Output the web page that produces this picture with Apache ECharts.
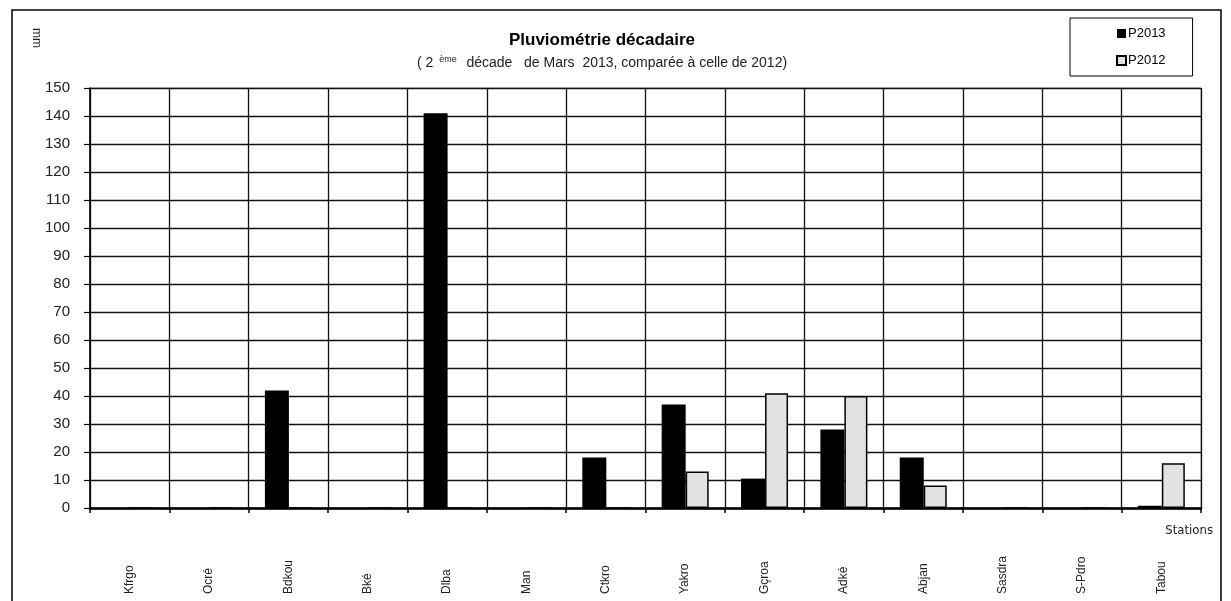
<!DOCTYPE html>
<html>
<head>
<meta charset="utf-8">
<script src="https://cdn.jsdelivr.net/npm/echarts@6/dist/echarts.min.js"></script>
<style>
  html, body { margin: 0; padding: 0; background: #fff; }
  #chart { width: 1231px; height: 601px; }
</style>
</head>
<body>
<div id="chart"></div>
<script>
// stations (x axis)
var stations = ['Kfrgo', 'Ocré', 'Bdkou', 'Bké', 'Dlba', 'Man', 'Ctkro', 'Yakro', 'Gçroa', 'Adké', 'Abjan', 'Sasdra', 'S-Pdro', 'Tabou'];
// rainfall mm
var p2013 = [0, 0, 42, 0, 141, 0, 18, 37, 10.5, 28, 18, 0, 0, 0.8];
var p2012 = [0, 0, 0, 0, 0, 0, 0, 13, 41, 40, 8, 0, 0, 16];

var chart = echarts.init(document.getElementById('chart'));

var font = '"Liberation Sans", Arial, sans-serif';

var option = {
    animation: false,
    backgroundColor: '#fff',
    textStyle: { fontFamily: font },
    title: {
        text: 'Pluviométrie décadaire',
        subtext: '{n|( 2 }{s|ème}{n|  décade   de Mars  2013, comparée à celle de 2012)}',
        left: 597,
        top: 27,
        textAlign: 'center',
        itemGap: 6,
        textStyle: { fontSize: 17, fontWeight: 'bold', color: '#000', fontFamily: font },
        subtextStyle: {
            color: '#222',
            fontFamily: font,
            rich: {
                n: { fontSize: 14, color: '#222', fontFamily: font },
                s: { fontSize: 9, color: '#222', fontFamily: font, verticalAlign: 'top', padding: [0, 2, 8, 2] }
            }
        }
    },
    legend: {
        orient: 'vertical',
        left: 1070,
        top: 18,
        padding: [9, 27, 9, 46],
        itemGap: 14,
        itemWidth: 9,
        itemHeight: 9,
        borderColor: '#000',
        borderWidth: 1,
        icon: 'rect',
        textStyle: { fontSize: 13, color: '#000', padding: [0, 0, 0, -3] },
        data: ['P2013', 'P2012']
    },
    grid: {
        left: 90,
        right: 30,
        top: 88,
        bottom: 93,
        show: true,
        borderColor: '#999',
        borderWidth: 1
    },
    xAxis: {
        type: 'category',
        data: stations,
        boundaryGap: true,
        axisLine: { lineStyle: { color: '#000', width: 2.5 } },
        axisTick: { show: true, length: 5, lineStyle: { color: '#000', width: 1.5 } },
        splitLine: { show: true, lineStyle: { color: '#111', width: 1.3 } },
        axisLabel: {
            interval: 0,
            rotate: 90,
            align: 'left',
            margin: 86,
            fontSize: 12,
            color: '#222'
        }
    },
    yAxis: {
        type: 'value',
        min: 0,
        max: 150,
        interval: 10,
        axisLine: { show: true, lineStyle: { color: '#000', width: 1.5 } },
        axisTick: { show: true, length: 6, lineStyle: { color: '#000', width: 1.2 } },
        splitLine: { show: true, lineStyle: { color: '#111', width: 1.3 } },
        axisLabel: { fontSize: 15, color: '#222', margin: 20 }
    },
    series: [
        {
            name: 'P2013',
            type: 'bar',
            data: p2013,
            barWidth: 24,
            barGap: '0%',
            itemStyle: { color: '#000', borderColor: '#000', borderWidth: 0 }
        },
        {
            name: 'P2012',
            type: 'bar',
            data: p2012,
            barWidth: 23,
            barGap: '0%',
            itemStyle: { color: '#e2e2e2', borderColor: '#000', borderWidth: 1.5 }
        }
    ],
    graphic: [
        {
            type: 'rect',
            shape: { x: 12, y: 10, width: 1209, height: 600 },
            style: { fill: 'none', stroke: '#000', lineWidth: 1.5 },
            silent: true
        },
        {
            type: 'text',
            x: 42,
            y: 28,
            rotation: -Math.PI / 2,
            style: { text: 'mm', fontSize: 12, fill: '#222', fontFamily: font, textAlign: 'left', textVerticalAlign: 'top' }
        },
        {
            type: 'text',
            x: 1213,
            y: 524,
            style: { text: 'Stations', fontSize: 13, fill: '#222', fontFamily: '"Liberation Sans Narrow", "DejaVu Sans Condensed", sans-serif', textAlign: 'right' }
        }
    ]
};

chart.setOption(option);
</script>
</body>
</html>
